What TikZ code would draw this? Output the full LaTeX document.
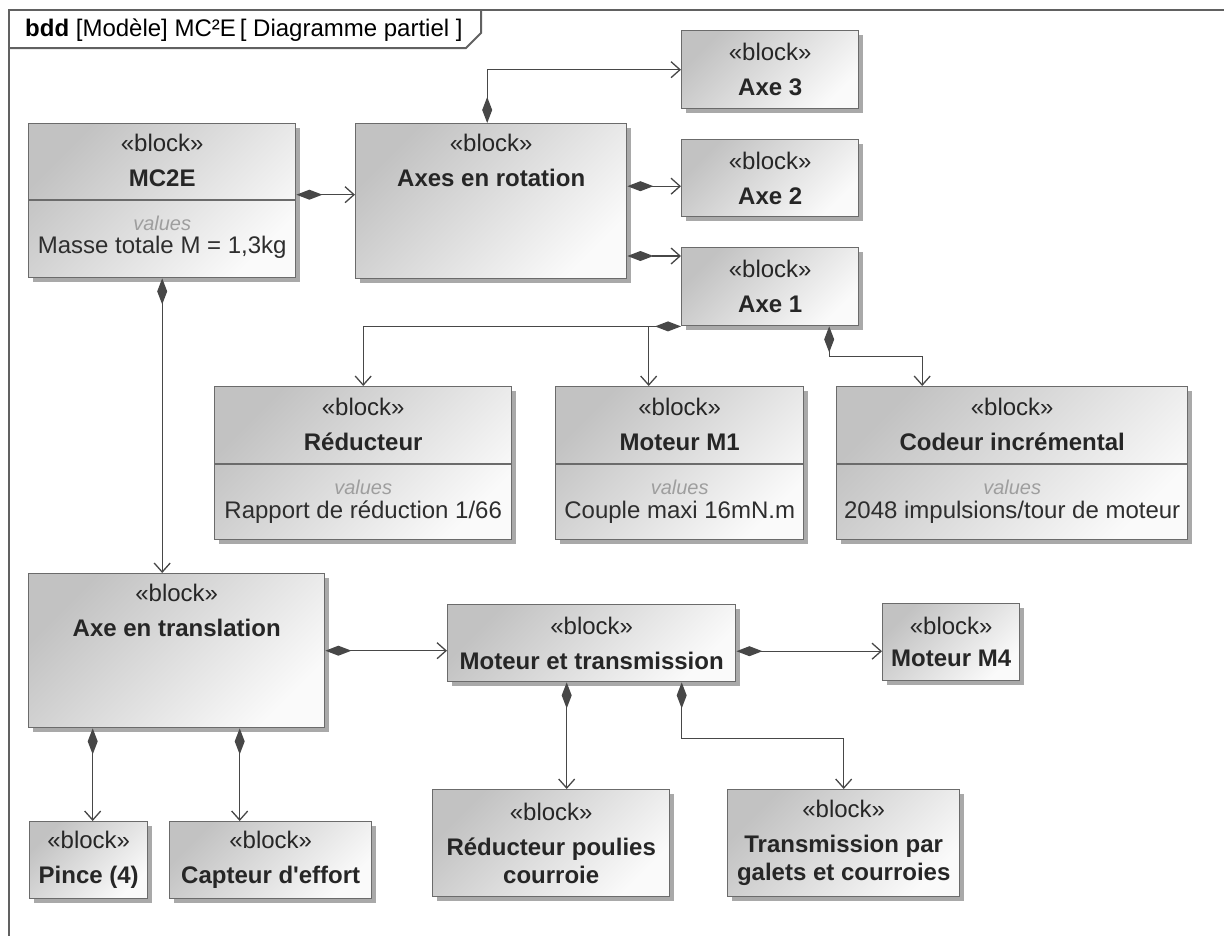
\documentclass[tikz,border=0pt]{standalone}
\usepackage{fontspec}
\setmainfont{Liberation Sans}
\usetikzlibrary{positioning, arrows.meta, shadows}

\begin{document}
\begin{tikzpicture}[
    x=1pt, y=-1pt,
    frame/.style={draw=black!62, line width=2pt},
    block/.style={draw=black!58, line width=1.4pt, top color=black!24, bottom color=black!2, shading angle=45,
        drop shadow={shadow xshift=4.5pt, shadow yshift=-4.5pt, fill=black!45, opacity=.75},
        anchor=north west, inner sep=0pt, align=center, text=black!85, font=\fontsize{24}{28}\selectfont},
    head/.style={anchor=north, align=center, inner sep=0pt, text=black!85, font=\fontsize{24}{28}\selectfont},
    vals/.style={inner sep=0pt, text=black!38, font=\fontsize{20}{24}\selectfont\itshape},
    attr/.style={inner sep=0pt, text=black!82, font=\fontsize{24}{28}\selectfont},
    sepline/.style={draw=black!58, line width=1.4pt},
    comp/.style={draw=black!72, line width=1.3pt, {Diamond[length=26pt,width=10pt]}-{Straight Barb[length=9pt,width=16pt]}},
    link/.style={draw=black!72, line width=1.3pt, -{Straight Barb[length=9pt,width=16pt]}}
]
\useasboundingbox (0,0) rectangle (1224,935);
\clip (0,0) rectangle (1224,935);

\draw[frame] (9,945) -- (9,10) -- (1235,10);
\draw[frame] (9,48) -- (466,48) -- (481,33) -- (481,10);
\node[anchor=west, inner sep=0pt, font=\fontsize{24}{28}\selectfont] (diag) at (25,30)
    {\textbf{bdd} [Modèle] MC²E\,[ Diagramme partiel ]};

\node[block, minimum width=267, minimum height=154] (mc2e) at (28,123) {};
\node[head] (mc2e-h) at ([yshift=-11pt]mc2e.north) {«block»\\[7pt]\textbf{MC2E}};
\draw[sepline] ([yshift=-77pt]mc2e.north west) -- ([yshift=-77pt]mc2e.north east);
\node[vals] (mc2e-v) at ([yshift=-100pt]mc2e.north) {values};
\node[attr] (mc2e-a) at ([yshift=-124pt]mc2e.north) {Masse totale M = 1,3kg};

\node[block, minimum width=271, minimum height=155] (axes) at (355,123) {};
\node[head] (axes-h) at ([yshift=-11pt]axes.north) {«block»\\[7pt]\textbf{Axes en rotation}};

\node[block, minimum width=177, minimum height=78] (axe3) at (681,30) {«block»\\[7pt]\textbf{Axe 3}};
\node[block, minimum width=177, minimum height=77] (axe2) at (681,139) {«block»\\[7pt]\textbf{Axe 2}};
\node[block, minimum width=177, minimum height=78] (axe1) at (681,247) {«block»\\[7pt]\textbf{Axe 1}};

\node[block, minimum width=297, minimum height=153] (red) at (214,386) {};
\node[head] (red-h) at ([yshift=-12pt]red.north) {«block»\\[7pt]\textbf{Réducteur}};
\draw[sepline] ([yshift=-78pt]red.north west) -- ([yshift=-78pt]red.north east);
\node[vals] (red-v) at ([yshift=-101pt]red.north) {values};
\node[attr] (red-a) at ([yshift=-126pt]red.north) {Rapport de réduction 1/66};

\node[block, minimum width=248, minimum height=153] (mot1) at (555,386) {};
\node[head] (mot1-h) at ([yshift=-12pt]mot1.north) {«block»\\[7pt]\textbf{Moteur M1}};
\draw[sepline] ([yshift=-78pt]mot1.north west) -- ([yshift=-78pt]mot1.north east);
\node[vals] (mot1-v) at ([yshift=-101pt]mot1.north) {values};
\node[attr] (mot1-a) at ([yshift=-126pt]mot1.north) {Couple maxi 16mN.m};

\node[block, minimum width=351, minimum height=153] (cod) at (836,386) {};
\node[head] (cod-h) at ([yshift=-12pt]cod.north) {«block»\\[7pt]\textbf{Codeur incrémental}};
\draw[sepline] ([yshift=-78pt]cod.north west) -- ([yshift=-78pt]cod.north east);
\node[vals] (cod-v) at ([yshift=-101pt]cod.north) {values};
\node[attr] (cod-a) at ([yshift=-126pt]cod.north) {2048 impulsions/tour de moteur};

\node[block, minimum width=296, minimum height=154] (trans) at (28,573) {};
\node[head] (trans-h) at ([yshift=-11pt]trans.north) {«block»\\[7pt]\textbf{Axe en translation}};

\node[block, minimum width=288, minimum height=77] (met) at (447,604) {«block»\\[7pt]\textbf{Moteur et transmission}};
\node[block, minimum width=137, minimum height=77] (m4) at (882,603) {«block»\\[4pt]\textbf{Moteur M4}};
\node[block, minimum width=237, minimum height=107] (redp) at (432,789) {«block»\\[7pt]\textbf{Réducteur poulies}\\\textbf{courroie}};
\node[block, minimum width=232, minimum height=107] (trp) at (727,789) {«block»\\[7pt]\textbf{Transmission par}\\\textbf{galets et courroies}};
\node[block, minimum width=118, minimum height=77] (pince) at (29,821) {«block»\\[7pt]\textbf{Pince (4)}};
\node[block, minimum width=202, minimum height=77] (capt) at (169,821) {«block»\\[7pt]\textbf{Capteur d\textquotesingle effort}};

\coordinate (mc2e-o) at ([yshift=6pt]mc2e.east);
\draw[comp] (mc2e-o) -- (mc2e-o -| axes.west);
\coordinate (axes-o3) at ([xshift=-4pt]axes.north);
\draw[comp] (axes-o3) |- (axe3.west);
\coordinate (axe2-i) at ([yshift=-8pt]axe2.west);
\draw[comp] (axe2-i -| axes.east) -- (axe2-i);
\coordinate (axe1-i) at ([yshift=-9pt]axe1.north west);
\draw[comp] (axe1-i -| axes.east) -- (axe1-i);

\draw[comp] (axe1.south west) -| (red.north);
\coordinate (mot1-i) at ([xshift=-31pt]mot1.north);
\draw[link] (mot1-i |- axe1.south) -- (mot1-i);
\coordinate (axe1-o) at ([xshift=59pt]axe1.south);
\coordinate (cod-i) at ([xshift=-90pt]cod.north);
\draw[comp] (axe1-o) -- ++(0,30) -| (cod-i);

\draw[comp] (mc2e.south) -- (mc2e.south |- trans.north);
\draw[comp] (trans.east) -- (trans.east -| met.west);
\coordinate (met-o) at ([yshift=-8pt]met.east);
\draw[comp] (met-o) -- (met-o -| m4.west);
\coordinate (met-o1) at ([xshift=-25pt]met.south);
\draw[comp] (met-o1) -- (met-o1 |- redp.north);
\coordinate (met-o2) at ([xshift=90pt]met.south);
\draw[comp] (met-o2) -- ++(0,56) -| (trp.north);
\coordinate (trans-o1) at ([xshift=-84pt]trans.south);
\draw[comp] (trans-o1) -- (trans-o1 |- pince.north);
\coordinate (trans-o2) at ([xshift=63pt]trans.south);
\draw[comp] (trans-o2) -- (trans-o2 |- capt.north);
\end{tikzpicture}
\end{document}
